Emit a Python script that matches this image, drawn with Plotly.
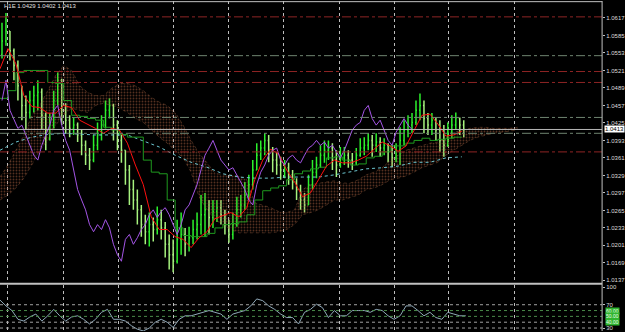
import numpy as np
import plotly.graph_objects as go

# ---------------- data ----------------
opens = [1.0550, 1.0575, 1.0593, 1.0557, 1.0530, 1.0493, 1.0457, 1.0444, 1.0466, 1.0475,
         1.0481, 1.0439, 1.0412, 1.0421, 1.0466, 1.0503, 1.0448, 1.0430, 1.0415, 1.0421,
         1.0403, 1.0384, 1.0366, 1.0357, 1.0384, 1.0403, 1.0421, 1.0448, 1.0457, 1.0421,
         1.0393, 1.0375, 1.0339, 1.0303, 1.0284, 1.0266, 1.0239, 1.0226, 1.0239, 1.0230,
         1.0248, 1.0233, 1.0203, 1.0184, 1.0172, 1.0212, 1.0221, 1.0203, 1.0215, 1.0230,
         1.0239, 1.0257, 1.0266, 1.0252, 1.0263, 1.0270, 1.0257, 1.0239, 1.0221, 1.0239,
         1.0266, 1.0275, 1.0293, 1.0312, 1.0339, 1.0366, 1.0379, 1.0393, 1.0375, 1.0357,
         1.0348, 1.0339, 1.0343, 1.0330, 1.0317, 1.0303, 1.0284, 1.0275, 1.0312, 1.0335,
         1.0348, 1.0366, 1.0375, 1.0379, 1.0357, 1.0348, 1.0361, 1.0366, 1.0357, 1.0352,
         1.0366, 1.0379, 1.0384, 1.0393, 1.0384, 1.0390, 1.0379, 1.0384, 1.0372, 1.0361,
         1.0375, 1.0393, 1.0412, 1.0421, 1.0426, 1.0448, 1.0457, 1.0433, 1.0421, 1.0430,
         1.0412, 1.0393, 1.0384, 1.0408, 1.0421, 1.0433, 1.0421]
highs = [1.0608, 1.0626, 1.0593, 1.0561, 1.0539, 1.0493, 1.0475, 1.0484, 1.0493, 1.0503,
         1.0488, 1.0444, 1.0443, 1.0484, 1.0517, 1.0506, 1.0461, 1.0439, 1.0435, 1.0426,
         1.0412, 1.0393, 1.0379, 1.0403, 1.0426, 1.0439, 1.0466, 1.0470, 1.0460, 1.0430,
         1.0403, 1.0375, 1.0348, 1.0321, 1.0303, 1.0275, 1.0257, 1.0261, 1.0252, 1.0272,
         1.0266, 1.0244, 1.0221, 1.0212, 1.0248, 1.0261, 1.0233, 1.0235, 1.0248, 1.0261,
         1.0293, 1.0297, 1.0284, 1.0284, 1.0284, 1.0284, 1.0266, 1.0248, 1.0261, 1.0290,
         1.0293, 1.0317, 1.0330, 1.0357, 1.0388, 1.0393, 1.0406, 1.0403, 1.0381, 1.0372,
         1.0363, 1.0357, 1.0352, 1.0339, 1.0324, 1.0312, 1.0297, 1.0330, 1.0357, 1.0363,
         1.0384, 1.0393, 1.0393, 1.0388, 1.0375, 1.0381, 1.0381, 1.0375, 1.0370, 1.0379,
         1.0397, 1.0399, 1.0406, 1.0403, 1.0406, 1.0399, 1.0397, 1.0388, 1.0384, 1.0388,
         1.0417, 1.0430, 1.0439, 1.0443, 1.0466, 1.0479, 1.0466, 1.0443, 1.0443, 1.0435,
         1.0430, 1.0421, 1.0426, 1.0439, 1.0444, 1.0435, 1.0430]
lows = [1.0543, 1.0566, 1.0539, 1.0503, 1.0466, 1.0430, 1.0412, 1.0433, 1.0444, 1.0448,
        1.0412, 1.0375, 1.0393, 1.0415, 1.0457, 1.0421, 1.0406, 1.0399, 1.0403, 1.0390,
        1.0366, 1.0348, 1.0339, 1.0353, 1.0375, 1.0393, 1.0415, 1.0433, 1.0393, 1.0375,
        1.0352, 1.0312, 1.0275, 1.0266, 1.0239, 1.0217, 1.0203, 1.0199, 1.0208, 1.0221,
        1.0212, 1.0179, 1.0157, 1.0152, 1.0168, 1.0184, 1.0181, 1.0190, 1.0203, 1.0212,
        1.0221, 1.0217, 1.0221, 1.0233, 1.0244, 1.0239, 1.0221, 1.0206, 1.0212, 1.0235,
        1.0252, 1.0266, 1.0284, 1.0303, 1.0339, 1.0357, 1.0366, 1.0353, 1.0335, 1.0330,
        1.0321, 1.0324, 1.0312, 1.0303, 1.0284, 1.0266, 1.0261, 1.0275, 1.0303, 1.0324,
        1.0343, 1.0352, 1.0357, 1.0339, 1.0326, 1.0343, 1.0348, 1.0343, 1.0339, 1.0348,
        1.0363, 1.0366, 1.0375, 1.0363, 1.0372, 1.0363, 1.0366, 1.0353, 1.0344, 1.0353,
        1.0348, 1.0384, 1.0399, 1.0406, 1.0421, 1.0430, 1.0406, 1.0403, 1.0403, 1.0393,
        1.0372, 1.0363, 1.0381, 1.0397, 1.0412, 1.0403, 1.0399]
closes = [1.0575, 1.0593, 1.0557, 1.0530, 1.0493, 1.0457, 1.0444, 1.0466, 1.0475, 1.0481,
          1.0439, 1.0412, 1.0421, 1.0466, 1.0503, 1.0448, 1.0430, 1.0415, 1.0421, 1.0403,
          1.0384, 1.0366, 1.0357, 1.0384, 1.0403, 1.0421, 1.0448, 1.0457, 1.0421, 1.0393,
          1.0375, 1.0339, 1.0303, 1.0284, 1.0266, 1.0239, 1.0226, 1.0239, 1.0230, 1.0248,
          1.0233, 1.0203, 1.0184, 1.0172, 1.0212, 1.0221, 1.0203, 1.0215, 1.0230, 1.0239,
          1.0257, 1.0266, 1.0252, 1.0263, 1.0270, 1.0257, 1.0239, 1.0221, 1.0239, 1.0266,
          1.0275, 1.0293, 1.0312, 1.0339, 1.0366, 1.0379, 1.0393, 1.0375, 1.0357, 1.0348,
          1.0339, 1.0343, 1.0330, 1.0317, 1.0303, 1.0284, 1.0275, 1.0312, 1.0335, 1.0348,
          1.0366, 1.0375, 1.0379, 1.0357, 1.0348, 1.0361, 1.0366, 1.0357, 1.0352, 1.0366,
          1.0379, 1.0384, 1.0393, 1.0384, 1.0390, 1.0379, 1.0384, 1.0372, 1.0361, 1.0375,
          1.0393, 1.0412, 1.0421, 1.0426, 1.0448, 1.0457, 1.0433, 1.0421, 1.0430, 1.0412,
          1.0393, 1.0384, 1.0408, 1.0421, 1.0433, 1.0421, 1.0413]

# Ichimoku lines (sampled every 2 bars)
tenkan = [1.0524, 1.0561, 1.0533, 1.0475, 1.0455, 1.0453, 1.0443, 1.0443, 1.0457, 1.0453,
          1.0430, 1.0423, 1.0415, 1.0406, 1.0415, 1.0412, 1.0388, 1.0348, 1.0312, 1.0253,
          1.0230, 1.0230, 1.0217, 1.0212, 1.0197, 1.0215, 1.0226, 1.0250, 1.0255, 1.0261,
          1.0253, 1.0270, 1.0321, 1.0357, 1.0377, 1.0368, 1.0339, 1.0317, 1.0290, 1.0297,
          1.0321, 1.0346, 1.0357, 1.0352, 1.0352, 1.0357, 1.0364, 1.0377, 1.0390, 1.0383,
          1.0373, 1.0383, 1.0410, 1.0439, 1.0441, 1.0423, 1.0401, 1.0403, 1.0410]
kijun = [1.0470, 1.0484, 1.0517, 1.0521, 1.0521, 1.0521, 1.0499, 1.0497, 1.0466, 1.0439,
         1.0437, 1.0433, 1.0430, 1.0417, 1.0412, 1.0404, 1.0399, 1.0399, 1.0357, 1.0335,
         1.0332, 1.0284, 1.0233, 1.0219, 1.0217, 1.0217, 1.0223, 1.0233, 1.0239, 1.0241,
         1.0244, 1.0257, 1.0284, 1.0301, 1.0306, 1.0310, 1.0321, 1.0332, 1.0337, 1.0341,
         1.0344, 1.0361, 1.0363, 1.0357, 1.0348, 1.0350, 1.0361, 1.0364, 1.0372, 1.0383,
         1.0383, 1.0388, 1.0393, 1.0397, 1.0393, 1.0395, 1.0397, 1.0399, 1.0399]
span_a = [1.0326, 1.0348, 1.0375, 1.0403, 1.0439, 1.0457, 1.0484, 1.0512, 1.0530, 1.0521,
          1.0493, 1.0481, 1.0475, 1.0475, 1.0488, 1.0497, 1.0497, 1.0493, 1.0484, 1.0472,
          1.0463, 1.0457, 1.0444, 1.0421, 1.0393, 1.0370, 1.0352, 1.0333, 1.0330, 1.0330,
          1.0328, 1.0321, 1.0279, 1.0275, 1.0270, 1.0263, 1.0261, 1.0266, 1.0303, 1.0312,
          1.0315, 1.0317, 1.0319, 1.0315, 1.0315, 1.0321, 1.0330, 1.0335, 1.0343, 1.0357,
          1.0366, 1.0375, 1.0379, 1.0384, 1.0388, 1.0390, 1.0397, 1.0408, 1.0412, 1.0415,
          1.0417, 1.0417, 1.0415, 1.0415, 1.0415, 1.0417]
span_b = [1.0284, 1.0293, 1.0306, 1.0324, 1.0348, 1.0375, 1.0393, 1.0421, 1.0439, 1.0452,
          1.0448, 1.0444, 1.0457, 1.0461, 1.0457, 1.0452, 1.0444, 1.0433, 1.0426, 1.0412,
          1.0399, 1.0388, 1.0375, 1.0361, 1.0335, 1.0290, 1.0266, 1.0248, 1.0239, 1.0230,
          1.0224, 1.0224, 1.0224, 1.0224, 1.0224, 1.0226, 1.0230, 1.0239, 1.0257, 1.0261,
          1.0266, 1.0275, 1.0284, 1.0284, 1.0288, 1.0293, 1.0303, 1.0306, 1.0312, 1.0321,
          1.0324, 1.0328, 1.0335, 1.0343, 1.0348, 1.0353, 1.0366, 1.0375, 1.0384, 1.0393,
          1.0399, 1.0403, 1.0406, 1.0408, 1.0410, 1.0412]
# long moving average (every 4 bars)
long_ma = [1.0375, 1.0390, 1.0399, 1.0404, 1.0406, 1.0404, 1.0403, 1.0403, 1.0403, 1.0392,
           1.0381, 1.0366, 1.0353, 1.0344, 1.0332, 1.0326, 1.0324, 1.0324, 1.0326, 1.0326,
           1.0326, 1.0330, 1.0335, 1.0341, 1.0343, 1.0346, 1.0353, 1.0353, 1.0361, 1.0363]
chikou_shift = 13

# horizontal levels
levels_red = [1.0619, 1.0519, 1.0499, 1.0372]
levels_gray = [1.0548, 1.0435, 1.0406]
bid = 1.0413

price_ticks = [1.0617, 1.0585, 1.0553, 1.0521, 1.0489, 1.0457, 1.0425, 1.0393,
               1.0361, 1.0329, 1.0297, 1.0265, 1.0233, 1.0201, 1.0169, 1.0137]
time_grid = [1.5, 15.375, 29.25, 43, 57, 70.75, 84.75, 98.5, 112.25, 128.75]

# oscillator (every 1.5 bars)
osc = [78, 68, 60, 45, 42, 49, 54, 42, 51, 62, 51, 42, 49, 51, 45, 37, 45, 57, 62, 45,
       45, 42, 34, 28, 25, 30, 40, 45, 40, 31, 45, 51, 51, 54, 58, 60, 57, 54, 45, 54,
       57, 60, 68, 80, 77, 68, 62, 54, 48, 48, 37, 57, 62, 71, 65, 48, 60, 51, 51, 60,
       60, 60, 57, 62, 60, 51, 45, 51, 68, 68, 60, 51, 57, 48, 45, 57, 54, 51, 51]
osc_ticks = [100, 70, 30]
osc_levels_gray = [70, 40, 30]
osc_levels_green = [60, 50]
osc_tags = [60, 50, 40]

header = "H1E 1.0429 1.0402 1.0413"

# ---------------- figure ----------------
bar_x = np.arange(len(closes))
line_x = np.arange(len(tenkan)) * 2 - 0.5
cloud_x = np.arange(len(span_a)) * 2 - 0.5
ma_x = np.arange(len(long_ma)) * 4 - 0.5
osc_x = np.arange(len(osc)) * 1.5 - 0.5

fig = go.Figure()

fig.add_trace(go.Scatter(x=cloud_x, y=span_b, mode="lines",
                         line=dict(color="rgba(190,120,80,0.55)", width=0.6, dash="dot"),
                         hoverinfo="skip", showlegend=False))
fig.add_trace(go.Scatter(x=cloud_x, y=span_a, mode="lines",
                         line=dict(color="rgba(190,120,80,0.55)", width=0.6, dash="dot"),
                         fill="tonexty", fillcolor="rgba(0,0,0,0)",
                         fillpattern=dict(shape=".", fgcolor="#aa6040", bgcolor="rgba(0,0,0,0)",
                                          size=3, solidity=0.3),
                         hoverinfo="skip", showlegend=False))

fig.add_trace(go.Ohlc(x=bar_x, open=opens, high=highs, low=lows, close=closes,
                      increasing=dict(line=dict(color="#2cf02c", width=1.5)),
                      decreasing=dict(line=dict(color="#a6f27e", width=1.5)),
                      tickwidth=0.25, showlegend=False))

fig.add_trace(go.Scatter(x=ma_x, y=long_ma, mode="lines",
                         line=dict(color="#6cc6d0", width=1, dash="dot"), showlegend=False))
fig.add_trace(go.Scatter(x=line_x, y=kijun, mode="lines",
                         line=dict(color="#1f9a1f", width=1, shape="hv"), showlegend=False))
fig.add_trace(go.Scatter(x=line_x, y=tenkan, mode="lines",
                         line=dict(color="#ff1010", width=1), showlegend=False))
fig.add_trace(go.Scatter(x=bar_x[chikou_shift:] - chikou_shift, y=closes[chikou_shift:],
                         mode="lines", line=dict(color="#a455e6", width=1), showlegend=False))

fig.add_trace(go.Scatter(x=osc_x, y=osc, mode="lines", xaxis="x2", yaxis="y2",
                         line=dict(color="#8fa8b8", width=1), showlegend=False))

shapes = []
for v in levels_red:
    shapes.append(dict(type="line", xref="x domain", x0=0, x1=1, yref="y", y0=v, y1=v,
                       line=dict(color="#8e2424", width=1, dash="dashdot")))
for v in levels_gray:
    shapes.append(dict(type="line", xref="x domain", x0=0, x1=1, yref="y", y0=v, y1=v,
                       line=dict(color="#6f8470", width=1, dash="dashdot")))
shapes.append(dict(type="line", xref="x domain", x0=0, x1=1, yref="y", y0=bid, y1=bid,
                   line=dict(color="#b8b8b8", width=1)))
for v in osc_levels_gray:
    shapes.append(dict(type="line", xref="x2 domain", x0=0, x1=1, yref="y2", y0=v, y1=v,
                       line=dict(color="#a0a0a0", width=1, dash="dot")))
for v in osc_levels_green:
    shapes.append(dict(type="line", xref="x2 domain", x0=0, x1=1, yref="y2", y0=v, y1=v,
                       line=dict(color="#4a8a4a", width=1, dash="dot")))
# pane frame
xr = 605 / 625
shapes.append(dict(type="line", xref="paper", yref="paper", x0=0, x1=xr,
                   y0=(332 - 284.5) / 332, y1=(332 - 284.5) / 332,
                   line=dict(color="#c0c0c0", width=2)))
shapes.append(dict(type="line", xref="paper", yref="paper", x0=xr, x1=xr, y0=0, y1=1,
                   line=dict(color="#c0c0c0", width=1)))
shapes.append(dict(type="line", xref="paper", yref="paper", x0=0, x1=xr, y0=0.998, y1=0.998,
                   line=dict(color="#c0c0c0", width=1)))

annotations = [
    dict(text=header, xref="paper", yref="paper", x=0.004, y=1.0, xanchor="left",
         yanchor="top", showarrow=False, font=dict(size=6, color="#e0e0e0",
                                                   family="Liberation Sans")),
    dict(text=f"{bid:.4f}", xref="paper", yref="y", x=xr + 0.003, y=bid, xanchor="left",
         yanchor="middle", showarrow=False, bgcolor="#ffffff", borderpad=0,
         font=dict(size=6, color="#000000", family="Liberation Sans")),
]
for v in osc_tags:
    annotations.append(dict(text=f"{v:.2f}", xref="paper", yref="y2", x=xr + 0.004, y=v,
                            xanchor="left", yanchor="middle", showarrow=False,
                            bgcolor="#2fb52f", borderpad=0,
                            font=dict(size=5, color="#e8ffe8", family="Liberation Sans")))

fig.update_layout(
    width=625, height=332, margin=dict(l=0, r=0, t=0, b=0),
    paper_bgcolor="#000000", plot_bgcolor="#000000",
    showlegend=False, shapes=shapes, annotations=annotations,
    xaxis=dict(domain=[0, xr], range=[-0.5, 150.75], tickvals=time_grid,
               showticklabels=False, showgrid=True, gridcolor="#bdbdbd", griddash="dot",
               gridwidth=1, zeroline=False, showline=False, ticks="",
               rangeslider=dict(visible=False), fixedrange=True),
    yaxis=dict(domain=[(332 - 283) / 332, 1], range=[1.01335, 1.0648], side="right",
               tickvals=price_ticks, ticktext=[f"{v:.4f}" for v in price_ticks],
               tickfont=dict(size=6, color="#dcdcdc", family="Liberation Sans"),
               showgrid=False, zeroline=False, ticks="outside", ticklen=2,
               tickcolor="#c0c0c0", showline=False),
    xaxis2=dict(domain=[0, xr], range=[-0.5, 150.75], anchor="y2", matches="x",
                tickvals=time_grid, showticklabels=False, showgrid=True,
                gridcolor="#bdbdbd", griddash="dot", zeroline=False, ticks=""),
    yaxis2=dict(domain=[0, (332 - 286) / 332], range=[24.9, 103.4], side="right",
                anchor="x2", tickvals=osc_ticks,
                tickfont=dict(size=6, color="#dcdcdc", family="Liberation Sans"),
                showgrid=False, zeroline=False, ticks="outside", ticklen=2,
                tickcolor="#c0c0c0"),
)

fig.write_html("out.html")
